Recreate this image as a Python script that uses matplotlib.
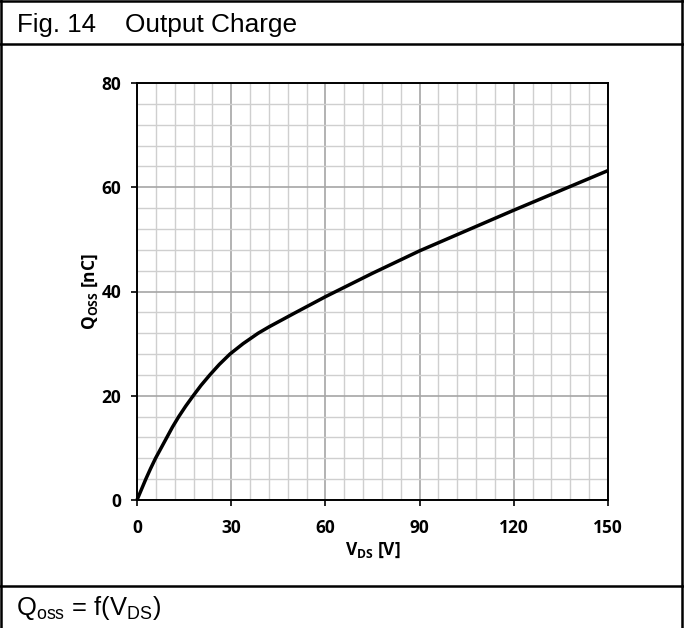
import matplotlib.pyplot as plt
from matplotlib.lines import Line2D
from matplotlib.ticker import MultipleLocator

LABEL_FONT = "Open Sans"

plt.rcParams["mathtext.fontset"] = "custom"
plt.rcParams["mathtext.rm"] = "Liberation Sans"
plt.rcParams["mathtext.bf"] = LABEL_FONT + ":bold"

# output charge curve, V_DS in volts, Q_oss in nC
vds = [0, 1.4, 2.8, 4.3, 5.9, 7.7, 9.5, 11.3, 13.3, 15.5, 17.9, 20.4, 23.2,
       26.2, 29.6, 33.8, 38.6, 42, 46, 50, 55, 60,
       75, 90, 105, 120, 135, 150]
qoss = [0, 2, 4, 6, 8, 10, 12, 14, 16, 18, 20, 22, 24,
        26, 28, 30, 32, 33.2, 34.5, 35.8, 37.4, 39,
        43.5, 47.8, 51.7, 55.6, 59.4, 63.2]

x_ticks = [0, 30, 60, 90, 120, 150]
y_ticks = [0, 20, 40, 60, 80]

W, H = 684, 628


def fx(px):
    return px / W


def fy(py):
    return 1 - py / H


def main() -> None:
    fig = plt.figure(figsize=(W / 100, H / 100), dpi=100)

    # table frame around the figure
    frame = dict(color="black", lw=1.8, transform=fig.transFigure)
    fig.add_artist(Line2D([fx(1), fx(1)], [fy(0), fy(628)], **frame))
    fig.add_artist(Line2D([fx(682), fx(682)], [fy(0), fy(628)], **frame))
    fig.add_artist(Line2D([fx(0), fx(684)], [fy(0.7), fy(0.7)], **frame))
    fig.add_artist(Line2D([fx(0), fx(684)], [fy(43.5), fy(43.5)], **frame))
    fig.add_artist(Line2D([fx(0), fx(684)], [fy(585.7), fy(585.7)], **frame))

    fig.text(fx(17), fy(32), "Fig. 14", family="Liberation Sans", fontsize=18.6,
             va="baseline", ha="left")
    fig.text(fx(125), fy(32), "Output Charge", family="Liberation Sans", fontsize=18.9,
             va="baseline", ha="left")
    fig.text(fx(16), fy(615), r"Q$_\mathrm{oss}$ = f(V$_\mathrm{DS}$)",
             family="Liberation Sans", fontsize=18.4, va="baseline", ha="left")

    ax = fig.add_axes([fx(137), fy(500), (608 - 137) / W, (500 - 83) / H])
    ax.plot(vds, qoss, color="black", lw=2.5, zorder=3, clip_on=False,
            solid_capstyle="butt", solid_joinstyle="round")

    ax.set_xlim(0, 150)
    ax.set_ylim(0, 80)
    ax.set_xticks(x_ticks)
    ax.set_yticks(y_ticks)
    ax.xaxis.set_minor_locator(MultipleLocator(6))
    ax.yaxis.set_minor_locator(MultipleLocator(4))
    ax.grid(True, which="minor", color="#cfcfcf", lw=1.0, zorder=0)
    ax.grid(True, which="major", color="#a6a6a6", lw=1.2, zorder=1)
    ax.set_axisbelow(True)

    ax.tick_params(which="minor", length=0)
    ax.tick_params(which="major", direction="out", length=4.5, width=1.2,
                   color="black")
    ax.tick_params(axis="x", pad=9)
    ax.tick_params(axis="y", pad=7)
    for lab in ax.get_xticklabels() + ax.get_yticklabels():
        lab.set_family(LABEL_FONT)
        lab.set_fontweight("bold")
        lab.set_fontsize(12.5)

    for sp in ax.spines.values():
        sp.set_color("black")
        sp.set_linewidth(1.4)

    ax.set_xlabel(r"V$_\mathbf{DS}$ [V]", family=LABEL_FONT, fontweight="bold",
                  fontsize=12.5, labelpad=3)
    ax.set_ylabel(r"Q$_\mathbf{OSS}$ [nC]", family=LABEL_FONT, fontweight="bold",
                  fontsize=12.5, labelpad=1)

    fig.savefig("out.png", dpi=100)


if __name__ == "__main__":
    main()
